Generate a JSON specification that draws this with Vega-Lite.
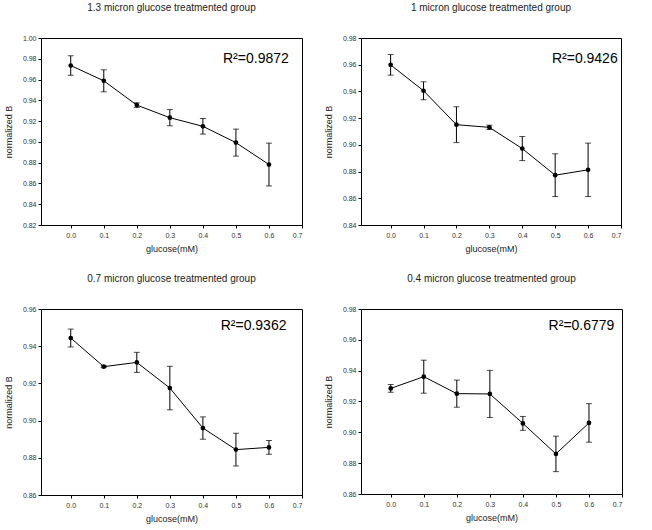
{
  "$schema": "https://vega.github.io/schema/vega-lite/v6.json",
  "padding": {"left": 3, "top": 2, "right": 5, "bottom": 5},
  "background": "white",
  "config": {
    "font": "Liberation Sans",
    "view": {"stroke": "black", "strokeWidth": 1},
    "title": {"fontSize": 10, "fontWeight": "normal", "color": "#222", "anchor": "middle", "frame": "group", "offset": 21},
    "axis": {
      "grid": false,
      "domainColor": "black",
      "tickColor": "black",
      "tickSize": 3,
      "labelFontSize": 7,
      "labelColor": "#333",
      "titleFontSize": 9,
      "titleFontWeight": "normal",
      "titleColor": "#222",
      "labelOverlap": false
    },
    "axisX": {"labelPadding": 3, "titlePadding": 6},
    "axisY": {"labelPadding": 2, "titlePadding": 9}
  },
  "datasets": {
    "g13": [
      {"glucose": 0.0, "B": 0.9735, "err": 0.0094},
      {"glucose": 0.1, "B": 0.9588, "err": 0.0106},
      {"glucose": 0.2, "B": 0.9354, "err": 0.0022},
      {"glucose": 0.3, "B": 0.9233, "err": 0.0078},
      {"glucose": 0.4, "B": 0.915, "err": 0.0075},
      {"glucose": 0.5, "B": 0.8993, "err": 0.013},
      {"glucose": 0.6, "B": 0.8782, "err": 0.0206}
    ],
    "g10": [
      {"glucose": 0.0, "B": 0.9599, "err": 0.0077},
      {"glucose": 0.1, "B": 0.9405, "err": 0.0067},
      {"glucose": 0.2, "B": 0.9151, "err": 0.0134},
      {"glucose": 0.3, "B": 0.9131, "err": 0.0016},
      {"glucose": 0.4, "B": 0.8972, "err": 0.009},
      {"glucose": 0.5, "B": 0.8773, "err": 0.016},
      {"glucose": 0.6, "B": 0.8813, "err": 0.02}
    ],
    "g07": [
      {"glucose": 0.0, "B": 0.9444, "err": 0.0048},
      {"glucose": 0.1, "B": 0.929, "err": 0.0005},
      {"glucose": 0.2, "B": 0.9313, "err": 0.0054},
      {"glucose": 0.3, "B": 0.9175, "err": 0.0117},
      {"glucose": 0.4, "B": 0.896, "err": 0.006},
      {"glucose": 0.5, "B": 0.8844, "err": 0.0088},
      {"glucose": 0.6, "B": 0.8856, "err": 0.0037}
    ],
    "g04": [
      {"glucose": 0.0, "B": 0.9285, "err": 0.0025},
      {"glucose": 0.1, "B": 0.9361, "err": 0.0107},
      {"glucose": 0.2, "B": 0.9251, "err": 0.0088},
      {"glucose": 0.3, "B": 0.9249, "err": 0.0153},
      {"glucose": 0.4, "B": 0.9058, "err": 0.0045},
      {"glucose": 0.5, "B": 0.886, "err": 0.0115},
      {"glucose": 0.6, "B": 0.9061, "err": 0.0125}
    ]
  },
  "columns": 2,
  "spacing": {"row": 19, "column": 20},
  "concat": [
    {
      "title": "1.3 micron glucose treatmented group",
      "width": 261, "height": 187,
      "layer": [
        {"data": {"name": "g13"}, "mark": {"type": "errorbar", "ticks": {"color": "black", "size": 6}, "color": "black", "thickness": 1},
         "encoding": {
          "x": {"field": "glucose", "type": "quantitative", "title": "glucose(mM)", "scale": {"domain": [-0.09, 0.7], "nice": false, "zero": false}, "axis": {"values": [0, 0.1, 0.2, 0.3, 0.4, 0.5, 0.6, 0.7], "format": ".1f"}},
          "y": {"field": "B", "type": "quantitative", "title": "normalized B", "scale": {"domain": [0.82, 1.0], "nice": false, "zero": false}, "axis": {"values": [0.82, 0.84, 0.86, 0.88, 0.9, 0.92, 0.94, 0.96, 0.98, 1.0], "format": ".2f"}},
          "yError": {"field": "err"}}},
        {"data": {"name": "g13"}, "mark": {"type": "line", "color": "black", "strokeWidth": 1, "point": {"filled": true, "color": "black", "size": 22}},
         "encoding": {
          "x": {"field": "glucose", "type": "quantitative", "title": "glucose(mM)", "scale": {"domain": [-0.09, 0.7], "nice": false, "zero": false}, "axis": {"values": [0, 0.1, 0.2, 0.3, 0.4, 0.5, 0.6, 0.7], "format": ".1f"}},
          "y": {"field": "B", "type": "quantitative", "title": "normalized B", "scale": {"domain": [0.82, 1.0], "nice": false, "zero": false}, "axis": {"values": [0.82, 0.84, 0.86, 0.88, 0.9, 0.92, 0.94, 0.96, 0.98, 1.0], "format": ".2f"}}}},
        {"data": {"values": [{"label": "R²=0.9872"}]}, "mark": {"type": "text", "fontSize": 14, "align": "right", "baseline": "alphabetic", "color": "black"},
         "encoding": {
          "x": {"datum": 0.66, "type": "quantitative", "title": "glucose(mM)", "scale": {"domain": [-0.09, 0.7], "nice": false, "zero": false}, "axis": {"values": [0, 0.1, 0.2, 0.3, 0.4, 0.5, 0.6, 0.7], "format": ".1f"}},
          "y": {"datum": 0.976, "type": "quantitative", "title": "normalized B", "scale": {"domain": [0.82, 1.0], "nice": false, "zero": false}, "axis": {"values": [0.82, 0.84, 0.86, 0.88, 0.9, 0.92, 0.94, 0.96, 0.98, 1.0], "format": ".2f"}},
          "text": {"field": "label", "type": "nominal"}}}
      ]
    },
    {
      "title": "1 micron glucose treatmented group",
      "width": 260, "height": 187,
      "layer": [
        {"data": {"name": "g10"}, "mark": {"type": "errorbar", "ticks": {"color": "black", "size": 6}, "color": "black", "thickness": 1},
         "encoding": {
          "x": {"field": "glucose", "type": "quantitative", "title": "glucose(mM)", "scale": {"domain": [-0.09, 0.7], "nice": false, "zero": false}, "axis": {"values": [0, 0.1, 0.2, 0.3, 0.4, 0.5, 0.6, 0.7], "format": ".1f"}},
          "y": {"field": "B", "type": "quantitative", "title": "normalized B", "scale": {"domain": [0.84, 0.98], "nice": false, "zero": false}, "axis": {"values": [0.84, 0.86, 0.88, 0.9, 0.92, 0.94, 0.96, 0.98], "format": ".2f"}},
          "yError": {"field": "err"}}},
        {"data": {"name": "g10"}, "mark": {"type": "line", "color": "black", "strokeWidth": 1, "point": {"filled": true, "color": "black", "size": 22}},
         "encoding": {
          "x": {"field": "glucose", "type": "quantitative", "title": "glucose(mM)", "scale": {"domain": [-0.09, 0.7], "nice": false, "zero": false}, "axis": {"values": [0, 0.1, 0.2, 0.3, 0.4, 0.5, 0.6, 0.7], "format": ".1f"}},
          "y": {"field": "B", "type": "quantitative", "title": "normalized B", "scale": {"domain": [0.84, 0.98], "nice": false, "zero": false}, "axis": {"values": [0.84, 0.86, 0.88, 0.9, 0.92, 0.94, 0.96, 0.98], "format": ".2f"}}}},
        {"data": {"values": [{"label": "R²=0.9426"}]}, "mark": {"type": "text", "fontSize": 14, "align": "right", "baseline": "alphabetic", "color": "black"},
         "encoding": {
          "x": {"datum": 0.69, "type": "quantitative", "title": "glucose(mM)", "scale": {"domain": [-0.09, 0.7], "nice": false, "zero": false}, "axis": {"values": [0, 0.1, 0.2, 0.3, 0.4, 0.5, 0.6, 0.7], "format": ".1f"}},
          "y": {"datum": 0.9614, "type": "quantitative", "title": "normalized B", "scale": {"domain": [0.84, 0.98], "nice": false, "zero": false}, "axis": {"values": [0.84, 0.86, 0.88, 0.9, 0.92, 0.94, 0.96, 0.98], "format": ".2f"}},
          "text": {"field": "label", "type": "nominal"}}}
      ]
    },
    {
      "title": "0.7 micron glucose treatmented group",
      "width": 261, "height": 186,
      "layer": [
        {"data": {"name": "g07"}, "mark": {"type": "errorbar", "ticks": {"color": "black", "size": 6}, "color": "black", "thickness": 1},
         "encoding": {
          "x": {"field": "glucose", "type": "quantitative", "title": "glucose(mM)", "scale": {"domain": [-0.09, 0.7], "nice": false, "zero": false}, "axis": {"values": [0, 0.1, 0.2, 0.3, 0.4, 0.5, 0.6, 0.7], "format": ".1f"}},
          "y": {"field": "B", "type": "quantitative", "title": "normalized B", "scale": {"domain": [0.86, 0.96], "nice": false, "zero": false}, "axis": {"values": [0.86, 0.88, 0.9, 0.92, 0.94, 0.96], "format": ".2f"}},
          "yError": {"field": "err"}}},
        {"data": {"name": "g07"}, "mark": {"type": "line", "color": "black", "strokeWidth": 1, "point": {"filled": true, "color": "black", "size": 22}},
         "encoding": {
          "x": {"field": "glucose", "type": "quantitative", "title": "glucose(mM)", "scale": {"domain": [-0.09, 0.7], "nice": false, "zero": false}, "axis": {"values": [0, 0.1, 0.2, 0.3, 0.4, 0.5, 0.6, 0.7], "format": ".1f"}},
          "y": {"field": "B", "type": "quantitative", "title": "normalized B", "scale": {"domain": [0.86, 0.96], "nice": false, "zero": false}, "axis": {"values": [0.86, 0.88, 0.9, 0.92, 0.94, 0.96], "format": ".2f"}}}},
        {"data": {"values": [{"label": "R²=0.9362"}]}, "mark": {"type": "text", "fontSize": 14, "align": "right", "baseline": "alphabetic", "color": "black"},
         "encoding": {
          "x": {"datum": 0.653, "type": "quantitative", "title": "glucose(mM)", "scale": {"domain": [-0.09, 0.7], "nice": false, "zero": false}, "axis": {"values": [0, 0.1, 0.2, 0.3, 0.4, 0.5, 0.6, 0.7], "format": ".1f"}},
          "y": {"datum": 0.9486, "type": "quantitative", "title": "normalized B", "scale": {"domain": [0.86, 0.96], "nice": false, "zero": false}, "axis": {"values": [0.86, 0.88, 0.9, 0.92, 0.94, 0.96], "format": ".2f"}},
          "text": {"field": "label", "type": "nominal"}}}
      ]
    },
    {
      "title": "0.4 micron glucose treatmented group",
      "width": 261, "height": 185,
      "layer": [
        {"data": {"name": "g04"}, "mark": {"type": "errorbar", "ticks": {"color": "black", "size": 6}, "color": "black", "thickness": 1},
         "encoding": {
          "x": {"field": "glucose", "type": "quantitative", "title": "glucose(mM)", "scale": {"domain": [-0.09, 0.7], "nice": false, "zero": false}, "axis": {"values": [0, 0.1, 0.2, 0.3, 0.4, 0.5, 0.6, 0.7], "format": ".1f"}},
          "y": {"field": "B", "type": "quantitative", "title": "normalized B", "scale": {"domain": [0.86, 0.98], "nice": false, "zero": false}, "axis": {"values": [0.86, 0.88, 0.9, 0.92, 0.94, 0.96, 0.98], "format": ".2f"}},
          "yError": {"field": "err"}}},
        {"data": {"name": "g04"}, "mark": {"type": "line", "color": "black", "strokeWidth": 1, "point": {"filled": true, "color": "black", "size": 22}},
         "encoding": {
          "x": {"field": "glucose", "type": "quantitative", "title": "glucose(mM)", "scale": {"domain": [-0.09, 0.7], "nice": false, "zero": false}, "axis": {"values": [0, 0.1, 0.2, 0.3, 0.4, 0.5, 0.6, 0.7], "format": ".1f"}},
          "y": {"field": "B", "type": "quantitative", "title": "normalized B", "scale": {"domain": [0.86, 0.98], "nice": false, "zero": false}, "axis": {"values": [0.86, 0.88, 0.9, 0.92, 0.94, 0.96, 0.98], "format": ".2f"}}}},
        {"data": {"values": [{"label": "R²=0.6779"}]}, "mark": {"type": "text", "fontSize": 14, "align": "right", "baseline": "alphabetic", "color": "black"},
         "encoding": {
          "x": {"datum": 0.677, "type": "quantitative", "title": "glucose(mM)", "scale": {"domain": [-0.09, 0.7], "nice": false, "zero": false}, "axis": {"values": [0, 0.1, 0.2, 0.3, 0.4, 0.5, 0.6, 0.7], "format": ".1f"}},
          "y": {"datum": 0.9666, "type": "quantitative", "title": "normalized B", "scale": {"domain": [0.86, 0.98], "nice": false, "zero": false}, "axis": {"values": [0.86, 0.88, 0.9, 0.92, 0.94, 0.96, 0.98], "format": ".2f"}},
          "text": {"field": "label", "type": "nominal"}}}
      ]
    }
  ]
}
